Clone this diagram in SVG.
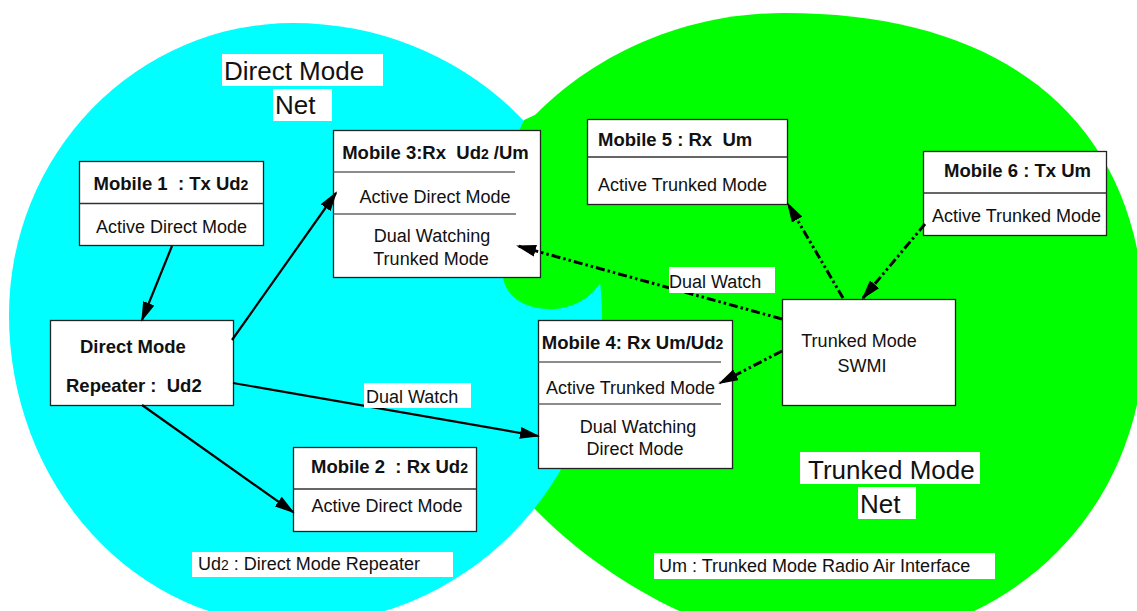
<svg xmlns="http://www.w3.org/2000/svg" width="1137" height="611" viewBox="0 0 1137 611">
<style>
text { font-family: "Liberation Sans", Arial, sans-serif; font-size: 18px; fill: #111; white-space: pre; }
.b { font-weight: bold; font-size: 18.5px; }
.big { font-size: 26px; }
.sm { font-size: 14px; }
.box { fill: #fff; stroke: #222; stroke-width: 1.3; }
.div { stroke: #333; stroke-width: 1.3; }
.div2 { stroke: #666; stroke-width: 1.6; }
.lbl { fill: #fff; }
.solid { fill: none; stroke: #000; stroke-width: 2.2; marker-end: url(#ah); }
.dd { fill: none; stroke: #000; stroke-width: 3; stroke-dasharray: 9 3 2.5 3 2.5 3; marker-end: url(#ah); }
</style>
<defs>
<marker id="ah" viewBox="0 0 20 12" markerWidth="20" markerHeight="12" refX="18" refY="6" orient="auto" markerUnits="userSpaceOnUse">
<path d="M0,0 L20,6 L0,12 Z" fill="#000"/>
</marker>
</defs>
<rect width="1137" height="611" fill="#fff"/>
<g id="nets">
<path id="trunked-net" d="M 785,13 C 1010,13 1145,125 1145,330 C 1145,513 1008,645 820,645 C 651,645 445,472 445,330 C 445,155 597,13 785,13 Z" fill="#00ff00"/>
<path id="direct-net" d="M 293,23 A 309 292 0 0 1 602 315 A 309 310 0 0 1 293 625 A 284 310 0 0 1 9 315 A 284 292 0 0 1 293 23 Z" fill="#00ffff"/>
<path id="trunked-lobe" d="M 524,120 C 508,150 500,230 503,278 C 507,300 530,310 553,309 C 575,308 592,296 600,283 L 640,200 L 600,85 Z" fill="#00ff00"/>
</g>
<g id="mobile1">
<rect class="box" x="79.5" y="161.5" width="184" height="84"/>
<line class="div" x1="79.5" y1="203.5" x2="263.5" y2="203.5"/>
<text class="b" x="171" y="190" text-anchor="middle">Mobile 1  : Tx Ud<tspan class="sm">2</tspan></text>
<text x="171.5" y="233" text-anchor="middle">Active Direct Mode</text>
</g>
<g id="mobile3">
<rect class="box" x="333.5" y="130.5" width="207" height="147"/>
<line class="div2" x1="333.5" y1="172" x2="515" y2="172"/>
<line class="div2" x1="333.5" y1="214" x2="516" y2="214"/>
<text class="b" x="435.5" y="159" text-anchor="middle">Mobile 3:Rx  Ud<tspan class="sm">2</tspan> /Um</text>
<text x="435" y="203" text-anchor="middle">Active Direct Mode</text>
<text x="432" y="242" text-anchor="middle">Dual Watching</text>
<text x="431" y="265" text-anchor="middle">Trunked Mode</text>
</g>
<g id="mobile5">
<rect class="box" x="587.5" y="119.5" width="200" height="85"/>
<line class="div" x1="587.5" y1="157" x2="787.5" y2="157"/>
<text class="b" x="598" y="146">Mobile 5 : Rx  Um</text>
<text x="598" y="191">Active Trunked Mode</text>
</g>
<g id="mobile6">
<rect class="box" x="923.5" y="151.5" width="183" height="84"/>
<line class="div" x1="923.5" y1="193" x2="1106.5" y2="193"/>
<text class="b" x="1017.5" y="177" text-anchor="middle">Mobile 6 : Tx Um</text>
<text x="1016.5" y="222" text-anchor="middle">Active Trunked Mode</text>
</g>
<g id="repeater">
<rect class="box" x="50.5" y="320.5" width="183" height="85"/>
<text class="b" x="80" y="353">Direct Mode</text>
<text class="b" x="66" y="392">Repeater :  Ud2</text>
</g>
<g id="swmi">
<rect class="box" x="782.5" y="299.5" width="173" height="106"/>
<text x="859" y="347" text-anchor="middle">Trunked Mode</text>
<text x="862" y="372" text-anchor="middle">SWMI</text>
</g>
<g id="mobile4">
<rect class="box" x="538.5" y="320.5" width="194" height="148"/>
<line class="div2" x1="538.5" y1="362" x2="721" y2="362"/>
<line class="div2" x1="538.5" y1="404" x2="721" y2="404"/>
<text class="b" x="632.5" y="349" text-anchor="middle">Mobile 4: Rx Um/Ud<tspan class="sm">2</tspan></text>
<text x="630.5" y="394" text-anchor="middle">Active Trunked Mode</text>
<text x="638" y="433" text-anchor="middle">Dual Watching</text>
<text x="635" y="455" text-anchor="middle">Direct Mode</text>
</g>
<g id="mobile2">
<rect class="box" x="293.5" y="447.5" width="183" height="84"/>
<line class="div" x1="293.5" y1="489" x2="476.5" y2="489"/>
<text class="b" x="389.5" y="473" text-anchor="middle">Mobile 2  : Rx Ud<tspan class="sm">2</tspan></text>
<text x="387" y="512" text-anchor="middle">Active Direct Mode</text>
</g>
<g id="connectors">
<line class="solid" x1="172" y1="246" x2="142" y2="320"/>
<line class="solid" x1="232" y1="340" x2="336" y2="193"/>
<line class="solid" x1="233" y1="383" x2="538" y2="436"/>
<line class="solid" x1="142" y1="405" x2="293" y2="512"/>
<line class="dd" x1="782" y1="319" x2="518" y2="246"/>
<line class="dd" x1="782" y1="351" x2="720" y2="383"/>
<line class="dd" x1="843" y1="298" x2="788" y2="204"/>
<line class="dd" x1="925" y1="224" x2="863" y2="298"/>
</g>
<g id="label-direct-net">
<rect class="lbl" x="222" y="54" width="161" height="32"/>
<text class="big" x="224" y="80">Direct Mode</text>
<rect class="lbl" x="273" y="89" width="59" height="32"/>
<text class="big" x="275" y="114">Net</text>
</g>
<g id="label-trunked-net">
<rect class="lbl" x="800" y="452" width="180" height="32"/>
<text class="big" x="808" y="479">Trunked Mode</text>
<rect class="lbl" x="858" y="487" width="58" height="32"/>
<text class="big" x="860" y="513">Net</text>
</g>
<g id="label-dual-watch-1">
<rect class="lbl" x="669" y="267" width="106" height="26"/>
<text x="669" y="288">Dual Watch</text>
</g>
<g id="label-dual-watch-2">
<rect class="lbl" x="364" y="383" width="107" height="25"/>
<text x="366" y="403">Dual Watch</text>
</g>
<g id="legend-ud2">
<rect class="lbl" x="192" y="552" width="261" height="25"/>
<text x="198" y="570">Ud<tspan class="sm">2</tspan> : Direct Mode Repeater</text>
</g>
<g id="legend-um">
<rect class="lbl" x="654" y="553" width="341" height="26"/>
<text x="659" y="572">Um : Trunked Mode Radio Air Interface</text>
</g>
</svg>
